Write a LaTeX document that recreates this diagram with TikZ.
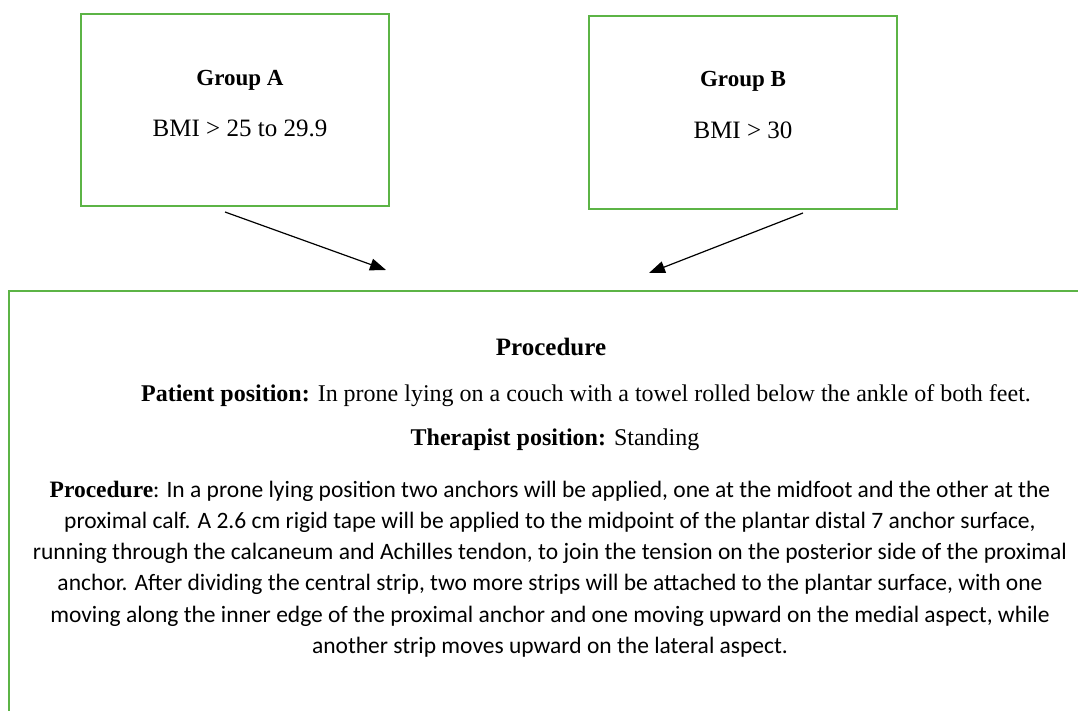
\documentclass[tikz,border=0pt]{standalone}
\usepackage{fontspec}
\setmainfont{Liberation Serif}
\newfontfamily\calibri{Carlito}
\usetikzlibrary{arrows.meta}
\definecolor{boxgreen}{RGB}{92,180,70}
\tikzset{
  greenbox/.style={draw=boxgreen, line width=2pt, rectangle, inner sep=0pt},
  conn/.style={draw=black, line width=1.2pt, -{Triangle[length=16pt,width=12pt]}},
  lbl/.style={inner sep=0pt, align=center, text=black}
}
\begin{document}
\begin{tikzpicture}[x=1pt,y=-1pt]
\useasboundingbox (0,0) rectangle (1078,711);
\clip (0,0) rectangle (1078,711);
\fill[white] (0,0) rectangle (1078,711);
% boxes
\node[greenbox, minimum width=308pt, minimum height=192pt] (boxA) at (235,110) {};
\node[greenbox, minimum width=308pt, minimum height=193pt] (boxB) at (743,112.5) {};
\node[greenbox, minimum width=1100pt, minimum height=460pt] (proc) at (559,521) {};
% texts
\node[lbl, font=\fontsize{23}{27}\selectfont\bfseries] (tA) at (240,80) {Group A};
\node[lbl, font=\fontsize{25}{29}\selectfont] (vA) at (240,128) {BMI > 25 to 29.9};
\node[lbl, font=\fontsize{23}{27}\selectfont\bfseries] (tB) at (743,81) {Group B};
\node[lbl, font=\fontsize{25}{29}\selectfont] (vB) at (743,130) {BMI > 30};
\node[lbl, font=\fontsize{25}{29}\selectfont\bfseries] (hP) at (551,347) {Procedure};
\node[lbl, font=\fontsize{24}{28}\selectfont] (pp) at (586,396) {\textbf{Patient position:} In prone lying on a couch with a towel rolled below the ankle of both feet.};
\node[lbl, font=\fontsize{24}{28}\selectfont] (tp) at (555,440) {\textbf{Therapist position:} Standing};
\node[lbl, font=\fontsize{23.5}{31.2}\selectfont] (desc) at (550,569) {%
{\bfseries Procedure}{\calibri: In a prone lying position two anchors will be applied, one at the midfoot and the other at the}\\
\calibri proximal calf. A 2.6 cm rigid tape will be applied to the midpoint of the plantar distal 7 anchor surface,\\
\calibri running through the calcaneum and Achilles tendon, to join the tension on the posterior side of the proximal\\
\calibri anchor. After dividing the central strip, two more strips will be attached to the plantar surface, with one\\
\calibri moving along the inner edge of the proximal anchor and one moving upward on the medial aspect, while\\
\calibri another strip moves upward on the lateral aspect.};
% connectors
\coordinate (aS) at (225,212);
\coordinate (aE) at (386,270);
\coordinate (bS) at (803,213);
\coordinate (bE) at (649,273);
\draw[conn] (aS) -- (aE);
\draw[conn] (bS) -- (bE);
\end{tikzpicture}
\end{document}
